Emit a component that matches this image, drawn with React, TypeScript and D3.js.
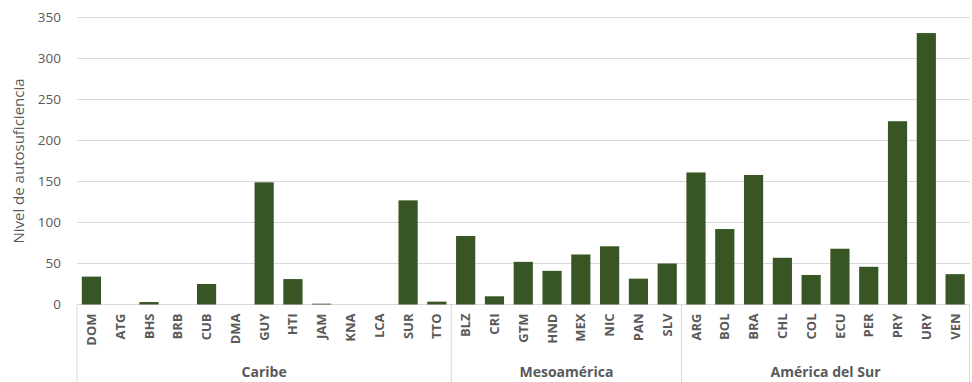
import React from "react";
import * as d3 from "d3";

// Country codes, grouped by region
const caribe = ["DOM", "ATG", "BHS", "BRB", "CUB", "DMA", "GUY", "HTI", "JAM", "KNA", "LCA", "SUR", "TTO"];
const mesoamerica = ["BLZ", "CRI", "GTM", "HND", "MEX", "NIC", "PAN", "SLV"];
const americaSur = ["ARG", "BOL", "BRA", "CHL", "COL", "ECU", "PER", "PRY", "URY", "VEN"];

// Self-sufficiency level per country
const caribeValues = [34, 0, 3, 0, 25, 0, 149, 31, 1, 0, 0, 127, 3.5];
const mesoamericaValues = [83.5, 10, 52, 41, 61, 71, 31.5, 50];
const americaSurValues = [161, 92, 158, 57, 36, 68, 46, 223.5, 331, 37];

const groupNames = ["Caribe", "Mesoamérica", "América del Sur"];
const yTicks = [0, 50, 100, 150, 200, 250, 300, 350];

const W = 972;
const H = 382;
const margin = { left: 77, right: 2, top: 17.5, bottom: 77.5 };

export default function App() {
  const groups = [
    { name: groupNames[0], codes: caribe, values: caribeValues },
    { name: groupNames[1], codes: mesoamerica, values: mesoamericaValues },
    { name: groupNames[2], codes: americaSur, values: americaSurValues },
  ];
  const rows = groups.flatMap((g) => g.codes.map((c, i) => ({ code: c, value: g.values[i], group: g.name })));

  const x = d3
    .scaleBand<string>()
    .domain(rows.map((r) => r.code))
    .range([margin.left, W - margin.right - 0.5])
    .paddingInner(1 / 3)
    .paddingOuter(1 / 6);
  const step = x.step();
  const y = d3.scaleLinear().domain([0, 350]).range([H - margin.bottom, margin.top]);
  const y0 = y(0);

  // Boundaries of each group on the category axis
  let idx = 0;
  const bounds = groups.map((g) => {
    const start = margin.left + idx * step;
    idx += g.codes.length;
    const end = margin.left + idx * step;
    return { name: g.name, start, end };
  });

  const textColor = "#595959";
  const font = "'Open Sans', Lato, sans-serif";

  return (
    <svg width={W} height={H} style={{ position: "absolute", left: 0, top: 0, background: "#fff" }}>
      {/* grid */}
      {yTicks.map((t) => (
        <line key={t} x1={margin.left} x2={W - margin.right} y1={y(t)} y2={y(t)} stroke="#d9d9d9" strokeWidth={1} />
      ))}
      {/* y tick labels */}
      {yTicks.map((t) => (
        <text
          key={"l" + t}
          x={61}
          y={y(t)}
          dy="0.35em"
          textAnchor="end"
          fontFamily={font}
          fontSize={13.5}
          fill={textColor}
        >
          {t}
        </text>
      ))}
      <text
        transform={`translate(19,${(y(0) + y(350)) / 2}) rotate(-90)`}
        textAnchor="middle"
        dy="0.35em"
        fontFamily={font}
        fontSize={15}
        fill={textColor}
      >
        Nivel de autosuficiencia
      </text>
      {/* bars */}
      {rows.map((r) => (
        <rect
          key={r.code}
          x={x(r.code)}
          y={y(r.value)}
          width={x.bandwidth()}
          height={y0 - y(r.value)}
          fill="#375623"
        />
      ))}
      {/* category separators */}
      {[bounds[0].start, ...bounds.map((b) => b.end)].map((bx, i) => (
        <line key={"s" + i} x1={bx} x2={bx} y1={y0} y2={H} stroke="#d9d9d9" strokeWidth={1} />
      ))}
      {/* country labels */}
      {rows.map((r) => (
        <text
          key={"c" + r.code}
          transform={`translate(${(x(r.code) as number) + x.bandwidth() / 2},${y0 + 9}) rotate(-90)`}
          textAnchor="end"
          dy="0.35em"
          fontFamily={font}
          fontSize={13}
          fontWeight="bold"
          fill={textColor}
        >
          {r.code}
        </text>
      ))}
      {/* group labels */}
      {bounds.map((b) => (
        <text
          key={"g" + b.name}
          x={(b.start + b.end) / 2}
          y={372}
          dy="0.35em"
          textAnchor="middle"
          fontFamily={font}
          fontSize={14}
          fontWeight="bold"
          fill={textColor}
        >
          {b.name}
        </text>
      ))}
    </svg>
  );
}
